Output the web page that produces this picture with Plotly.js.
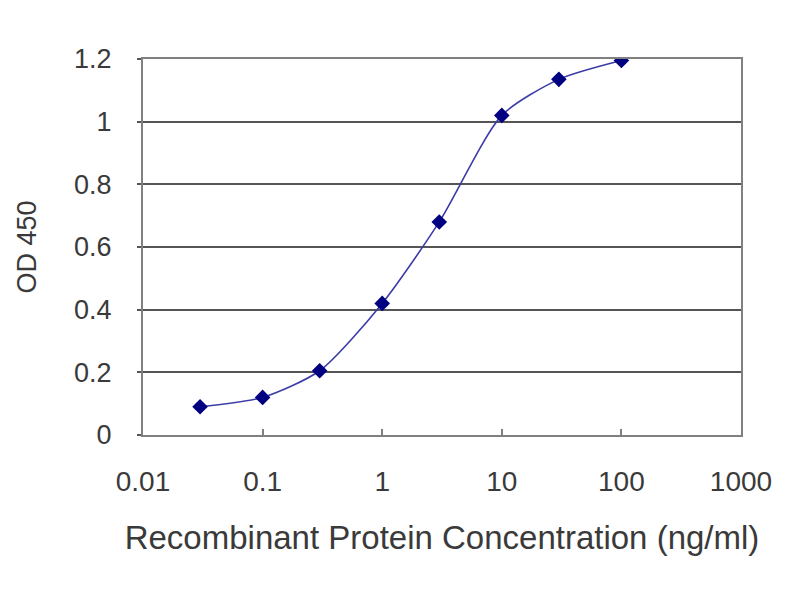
<!DOCTYPE html>
<html>
<head>
<meta charset="utf-8">
<script src="https://cdn.plot.ly/plotly-3.0.1.min.js"></script>
<style>
  html, body { margin: 0; padding: 0; background: white; }
  #od_plot { width: 800px; height: 600px; }
</style>
</head>
<body>
<div id="od_plot"></div>
<script>
// concentration (ng/ml) and measured OD 450
const concentration = [0.03, 0.1, 0.3, 1, 3, 10, 30, 100];
const od450 = [0.09, 0.12, 0.205, 0.42, 0.68, 1.02, 1.135, 1.195];

const xTicks = [0.01, 0.1, 1, 10, 100, 1000];
const xTickText = ['0.01', '0.1', '1', '10', '100', '1000'];
const yTicks = [0, 0.2, 0.4, 0.6, 0.8, 1, 1.2];
const yTickText = ['0', '0.2', '0.4', '0.6', '0.8', '1', '1.2'];

const fontFamily = '"Liberation Sans", Arial, sans-serif';

const curve = {
  x: concentration,
  y: od450,
  type: 'scatter',
  mode: 'lines+markers',
  line: { shape: 'spline', smoothing: 0.7, color: '#3c3ca8', width: 1.6 },
  marker: { symbol: 'diamond', size: 12, color: '#000080' },
  showlegend: false,
  hoverinfo: 'x+y'
};

const layout = {
  width: 800,
  height: 600,
  margin: { l: 143, r: 59, t: 59, b: 165 },
  paper_bgcolor: 'white',
  plot_bgcolor: 'white',
  font: { family: fontFamily, color: '#3a3a3a' },
  xaxis: {
    type: 'log',
    range: [-2, 3],
    tickmode: 'array',
    tickvals: xTicks,
    ticktext: xTickText,
    ticks: 'inside',
    ticklen: 6,
    tickwidth: 2,
    tickcolor: '#808080',
    ticklabelstandoff: 20,
    showgrid: false,
    zeroline: false,
    showline: true,
    linecolor: '#808080',
    linewidth: 2,
    mirror: true,
    tickfont: { size: 28, color: '#3a3a3a' },
    title: {
      text: 'Recombinant Protein Concentration (ng/ml)',
      font: { size: 33, color: '#3a3a3a' },
      standoff: 30
    }
  },
  yaxis: {
    range: [0, 1.2],
    tickmode: 'array',
    tickvals: yTicks,
    ticktext: yTickText,
    ticks: 'outside',
    ticklen: 4,
    tickwidth: 2,
    tickcolor: '#555555',
    ticklabelstandoff: 20,
    showgrid: true,
    gridcolor: '#555555',
    gridwidth: 2,
    zeroline: false,
    showline: true,
    linecolor: '#808080',
    linewidth: 2,
    mirror: true,
    tickfont: { size: 27, color: '#3a3a3a' },
    title: {
      text: 'OD 450',
      font: { size: 27, color: '#3a3a3a' },
      standoff: 30
    }
  }
};

Plotly.newPlot('od_plot', [curve], layout, { displayModeBar: false, staticPlot: true });
</script>
</body>
</html>
